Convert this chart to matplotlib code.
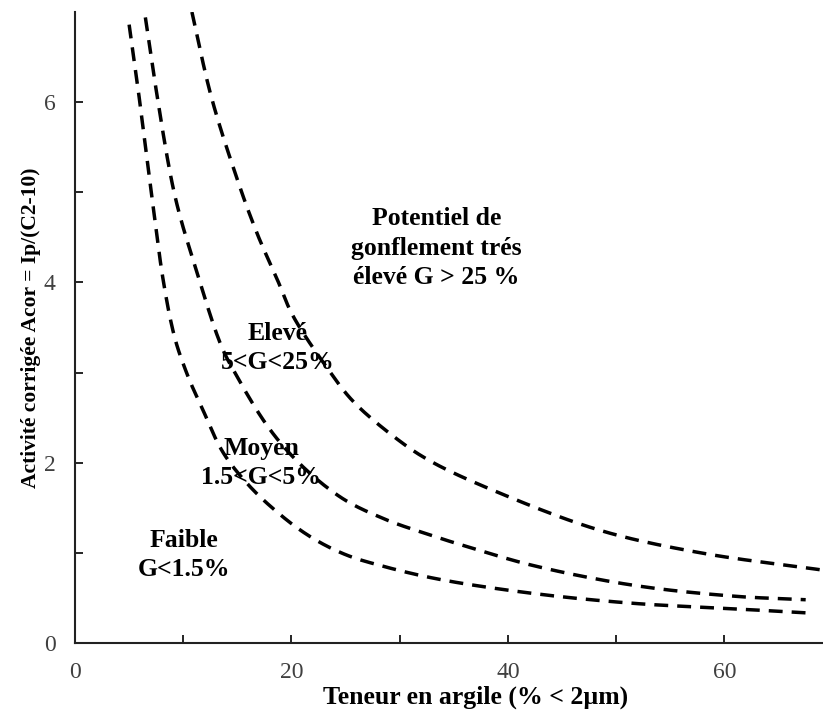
import matplotlib
matplotlib.use("Agg")
import matplotlib.pyplot as plt
import numpy as np

# Curve data
faible_x = [5.0, 5.8, 7.1, 8.1, 9.1, 10.3, 11.8, 13.5, 15.9, 19.2, 22.0, 25.0, 28.2, 33.5, 42.3, 51.6, 60.8, 68.2]
faible_y = [6.86, 6.17, 4.95, 4.06, 3.44, 3.0, 2.59, 2.15, 1.77, 1.40, 1.16, 0.98, 0.86, 0.71, 0.55, 0.44, 0.38, 0.33]

moyen_x = [6.5, 7.4, 9.1, 11.3, 13.4, 15.0, 17.7, 20.5, 24.5, 28.5, 32.5, 36.2, 42.3, 51.6, 60.8, 67.5]
moyen_y = [6.94, 6.21, 5.03, 4.1, 3.33, 2.95, 2.42, 2.02, 1.62, 1.38, 1.21, 1.07, 0.86, 0.64, 0.52, 0.48]

eleve_x = [10.8, 12.5, 15.0, 16.8, 18.8, 20.0, 23.6, 25.7, 30.0, 33.1, 39.3, 48.5, 57.8, 69.0]
eleve_y = [7.0, 6.1, 5.14, 4.55, 4.0, 3.66, 3.0, 2.68, 2.24, 2.0, 1.66, 1.25, 1.0, 0.81]

x_ticks = [0, 10, 20, 30, 40, 50, 60]
x_ticklabels = ["0", "", "20", "", "40", "", "60"]
y_ticks = [0, 1, 2, 3, 4, 5, 6]
y_ticklabels = ["0", "", "2", "", "4", "", "6"]

labels = [
    ("Potentiel de\ngonflement trés\nélevé G > 25 %", 33.4, 4.38),
    ("Elevé\n5<G<25%", 18.7, 3.27),
    ("Moyen\n1.5<G<5%", 17.2, 2.0),
    ("Faible\nG<1.5%", 10.1, 0.98),
]


def smooth(xs, ys, n=20):
    """Centripetal Catmull-Rom rendering of a polyline through the given points."""
    p = np.column_stack([xs, ys]).astype(float)
    p = np.vstack([2 * p[0] - p[1], p, 2 * p[-1] - p[-2]])
    out = []
    for i in range(1, len(p) - 2):
        p0, p1, p2, p3 = p[i - 1], p[i], p[i + 1], p[i + 2]
        t0 = 0.0
        t1 = t0 + np.linalg.norm(p1 - p0) ** 0.5
        t2 = t1 + np.linalg.norm(p2 - p1) ** 0.5
        t3 = t2 + np.linalg.norm(p3 - p2) ** 0.5
        t = np.linspace(t1, t2, n)[:, None]
        a1 = (t1 - t) / (t1 - t0) * p0 + (t - t0) / (t1 - t0) * p1
        a2 = (t2 - t) / (t2 - t1) * p1 + (t - t1) / (t2 - t1) * p2
        a3 = (t3 - t) / (t3 - t2) * p2 + (t - t2) / (t3 - t2) * p3
        b1 = (t2 - t) / (t2 - t0) * a1 + (t - t0) / (t2 - t0) * a2
        b2 = (t3 - t) / (t3 - t1) * a2 + (t - t1) / (t3 - t1) * a3
        c = (t2 - t) / (t2 - t1) * b1 + (t - t1) / (t2 - t1) * b2
        out.append(c if i == 1 else c[1:])
    c = np.vstack(out)
    return c[:, 0], c[:, 1]


plt.rcParams['font.family'] = ['Liberation Serif', 'DejaVu Serif']

fig = plt.figure(figsize=(8.23, 7.13), dpi=100)
ax = fig.add_axes([75/823, 70/713, 1 - 75/823, (643-12)/713])

for xs, ys in [(faible_x, faible_y), (moyen_x, moyen_y), (eleve_x, eleve_y)]:
    sx, sy = smooth(xs, ys)
    ax.plot(sx, sy, color='black', lw=2.5, linestyle=(0, (4.0, 2.6)), dash_capstyle='butt')

ax.set_xlim(0, 69.1)
ax.set_ylim(0, 7.0)
ax.set_xticks(x_ticks)
ax.set_xticklabels(x_ticklabels)
ax.set_yticks(y_ticks)
ax.set_yticklabels(y_ticklabels)
ax.tick_params(direction='in', length=6, width=1.2, labelsize=17, labelcolor='#404040')
ax.tick_params(axis='y', pad=14)
ax.tick_params(axis='x', pad=14)

for s in ['top', 'right']:
    ax.spines[s].set_visible(False)
for s in ['left', 'bottom']:
    ax.spines[s].set_linewidth(1.5)
    ax.spines[s].set_color('#222222')

ax.set_xlabel("Teneur en argile (% < 2µm)", fontsize=18.5, fontweight='bold')
ax.xaxis.set_label_coords((476 - 75) / 748, -(697 - 643) / 631, transform=ax.transAxes)
ax.xaxis.label.set_va('center')
ax.set_ylabel("Activité corrigée Acor = Ip/(C2-10)", fontsize=15.5, fontweight='bold', labelpad=2)

for txt, x, y in labels:
    ax.text(x, y, txt, ha='center', va='center', fontsize=18.5, fontweight='bold', linespacing=1.35)

fig.savefig("out.png", dpi=100)
